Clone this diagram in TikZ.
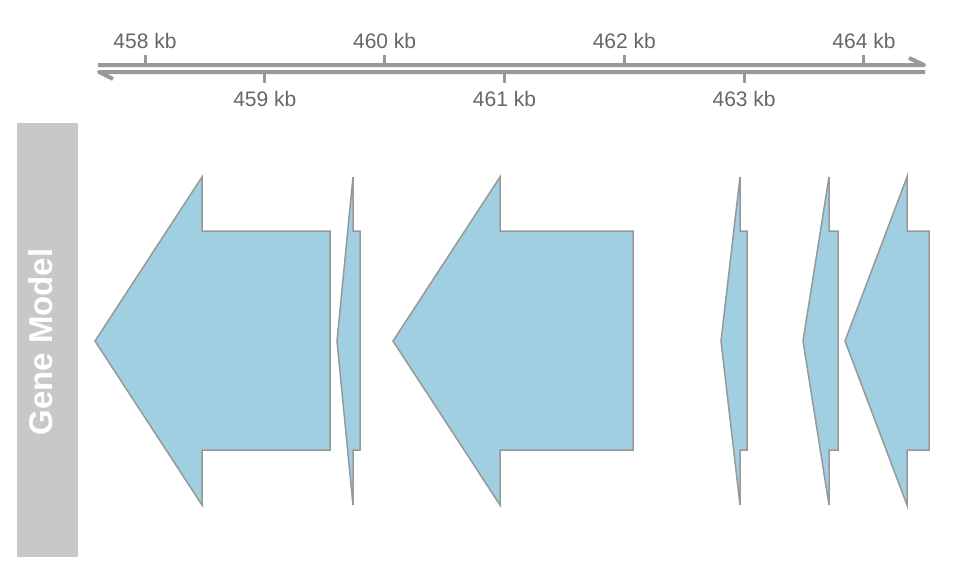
\documentclass[tikz,border=0pt]{standalone}
\usepackage{fontspec}
\setmainfont{Liberation Sans}
\usetikzlibrary{positioning}

\definecolor{axisgray}{HTML}{999999}
\definecolor{labelgray}{HTML}{666666}
\definecolor{trackgray}{HTML}{C8C8C8}
\definecolor{geneblue}{HTML}{A0CFE1}
\definecolor{geneline}{HTML}{989898}

\begin{document}
\begin{tikzpicture}[
  x=1pt, y=-1pt,
  font=\fontsize{21}{25}\selectfont,
  axisline/.style={
    draw=axisgray,
    line width=4pt,
    line join=round
  },
  tickmark/.style={
    draw=axisgray,
    line width=3pt
  },
  ticklabel/.style={
    text=labelgray,
    inner sep=0pt,
    anchor=base
  },
  trackbox/.style={
    fill=trackgray,
    minimum width=61pt,
    minimum height=434pt,
    inner sep=0pt
  },
  gene/.style={
    draw=geneline,
    fill=geneblue,
    line width=1.5pt,
    line join=miter
  }
]
\useasboundingbox (0,0) rectangle (960,576);

% genome axis, one strand each way
\draw[axisline] (98,65) -- (924,65) -- (909,58);
\draw[axisline] (925,72) -- (99,72) -- (113,79);

% even kb above, odd kb below
\foreach \kb in {458,460,462,464} {
  \coordinate (t\kb) at ({145+(\kb-458)*119.83},65);
  \draw[tickmark] (t\kb) -- ++(0,-10);
  \node[ticklabel] (l\kb) at ({145+(\kb-458)*119.83},48) {\kb\ kb};
}
\foreach \kb in {459,461,463} {
  \coordinate (t\kb) at ({145+(\kb-458)*119.83},72);
  \draw[tickmark] (t\kb) -- ++(0,11);
  \node[ticklabel] (l\kb) at ({145+(\kb-458)*119.83},106) {\kb\ kb};
}

% track title
\node[trackbox] (track) at (47.5,340) {};
\node[rotate=90, text=white, inner sep=0pt,
      font=\fontsize{33}{38}\selectfont\bfseries] (title) at (41,342) {Gene Model};

% gene arrows (tip / head / end)
\foreach \tip/\head/\tail in {95/202/330, 337/353/360, 393/500/633,
                              721/740/747, 803/829/838, 845/907/929} {
  \draw[gene] (\tip,341) -- (\head,177) -- (\head,231) -- (\tail,231)
    -- (\tail,450) -- (\head,450) -- (\head,505) -- cycle;
}

\end{tikzpicture}
\end{document}
